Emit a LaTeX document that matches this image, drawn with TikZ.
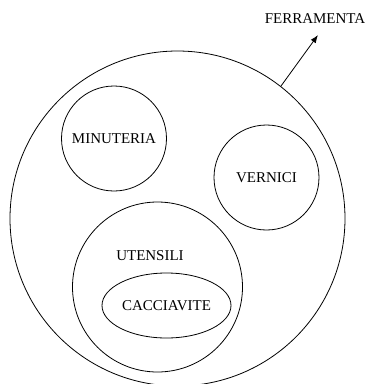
\documentclass[tikz,border=0pt]{standalone}
\usepackage{fontspec}
\setmainfont{Liberation Serif}
\usepackage{tikz}
\usetikzlibrary{shapes.geometric,arrows.meta}

\begin{document}
\begin{tikzpicture}[x=1pt,y=-1pt,
        insieme/.style={draw,circle,line width=0.8pt,inner sep=0pt},
        etichetta/.style={font=\fontsize{15}{18}\selectfont}]
        \useasboundingbox (0,0) rectangle (369,384);

        % Insieme principale
        \node[insieme,minimum size=335pt] (ferramenta) at (177.5,218.5) {};

        % Sottoinsiemi
        \node[insieme,minimum size=105pt,etichetta] (minuteria) at (114,138.5) {MINUTERIA};
        \node[insieme,minimum size=105pt,etichetta] (vernici) at (266.5,177.5) {VERNICI};
        \node[insieme,minimum size=170pt] (utensili) at (157.5,287) {};
        \node[etichetta] (lab-utensili) at (150,256) {UTENSILI};
        \node[draw,ellipse,line width=0.8pt,inner sep=0pt,
              minimum width=129pt,minimum height=65pt,etichetta] (cacciavite) at (166.5,305.5) {CACCIAVITE};

        % Freccia verso il nome
        \coordinate (punta) at (318,35);
        \node[etichetta] (lab-ferramenta) at (315,19) {FERRAMENTA};
        \draw[line width=0.8pt,-{Latex[length=8pt,width=6pt]}] (ferramenta.52.6) -- (punta);
    \end{tikzpicture}
\end{document}
